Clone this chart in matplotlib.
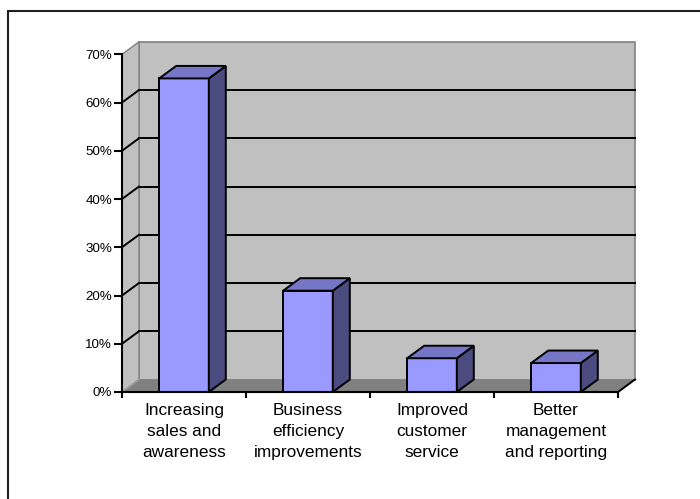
import matplotlib
matplotlib.use("Agg")
import matplotlib.pyplot as plt
from matplotlib.patches import Polygon, Rectangle
from matplotlib.lines import Line2D
from matplotlib.ticker import FixedLocator, FuncFormatter

categories = [
    "Increasing\nsales and\nawareness",
    "Business\nefficiency\nimprovements",
    "Improved\ncustomer\nservice",
    "Better\nmanagement\nand reporting",
]
values = [65, 21, 7, 6]          # percent
y_ticks = [0, 10, 20, 30, 40, 50, 60, 70]

plt.rcParams["font.family"] = ["Liberation Sans", "DejaVu Sans"]

W, H = 700, 499
fig = plt.figure(figsize=(W / 100, H / 100), dpi=100)
fig.patch.set_facecolor("white")

# front plane of the 3-D box
ax = fig.add_axes([122 / W, (H - 392) / H, 496 / W, (392 - 54.3) / H])
ax.set_xlim(0, len(categories))
ax.set_ylim(0, 70)
ax.patch.set_visible(False)

# depth offset of the box in data units
dx = 17 / 124
dy = 12.5 * 70 / (392 - 54.3)
ncat = len(categories)
ymax = 70

wall_c = "#C0C0C0"
floor_c = "#808080"
edge_c = "#808080"
front_c = "#9999FF"
top_c = "#7676C6"
side_c = "#4B4B80"

def poly(pts, fc, ec="none", lw=0, z=0.5):
    p = Polygon(pts, closed=True, facecolor=fc, edgecolor=ec, linewidth=lw,
                zorder=z, clip_on=False, joinstyle="miter")
    ax.add_patch(p)

# back wall, side wall, floor
poly([(dx, dy), (ncat + dx, dy), (ncat + dx, ymax + dy), (dx, ymax + dy)], wall_c, edge_c, 1.2)
poly([(0, 0), (dx, dy), (dx, ymax + dy), (0, ymax)], wall_c, edge_c, 1.0)
poly([(0, 0), (ncat, 0), (ncat + dx, dy), (dx, dy)], floor_c, "none", 0)

# floor edges
ax.add_line(Line2D([ncat, ncat + dx], [0, dy], color="black", lw=1.4, clip_on=False, zorder=0.7))
ax.add_line(Line2D([0, dx], [0, dy], color="#A0A0A0", lw=1.0, clip_on=False, zorder=0.7))

# gridlines on back and side walls
for v in y_ticks[1:-1]:
    ax.add_line(Line2D([dx, ncat + dx], [v + dy, v + dy], color="black", lw=1.4,
                       clip_on=False, zorder=0.6))
    ax.add_line(Line2D([0, dx], [v, v + dy], color="black", lw=1.4,
                       clip_on=False, zorder=0.6))

# 3-D columns
bw = 0.2
for i, v in enumerate(values):
    c = i + 0.5
    l, r = c - bw, c + bw
    kw = dict(ec="black", lw=1.4, z=2)
    poly([(l, 0), (r, 0), (r, v), (l, v)], front_c, **kw)
    poly([(r, 0), (r + dx, dy), (r + dx, v + dy), (r, v)], side_c, **kw)
    poly([(l, v), (r, v), (r + dx, v + dy), (l + dx, v + dy)], top_c, **kw)

# axes
for s in ("top", "right"):
    ax.spines[s].set_visible(False)
for s in ("left", "bottom"):
    ax.spines[s].set_linewidth(1.5)
    ax.spines[s].set_color("black")
    ax.spines[s].set_zorder(3)

ax.yaxis.set_major_locator(FixedLocator(y_ticks))
ax.yaxis.set_major_formatter(FuncFormatter(lambda v, p: f"{v:.0f}%"))
ax.tick_params(axis="y", direction="out", length=5.5, width=1.5, pad=1.5,
               labelsize=9.6, colors="black")

ax.set_xticks(range(ncat + 1))
ax.set_xticklabels([])
ax.tick_params(axis="x", which="major", direction="out", length=4.5, width=1.5)
ax.set_xticks([i + 0.5 for i in range(ncat)], minor=True)
ax.set_xticklabels(categories, minor=True, fontsize=12.4, linespacing=1.5)
ax.tick_params(axis="x", which="minor", length=0, pad=8)

# chart area border
fig.add_artist(Rectangle((8 / W, -0.1), 1.2, (H - 11) / H + 0.1, transform=fig.transFigure,
                         fill=False, edgecolor="#202020", linewidth=1.5))

fig.savefig("out.png", dpi=100)
